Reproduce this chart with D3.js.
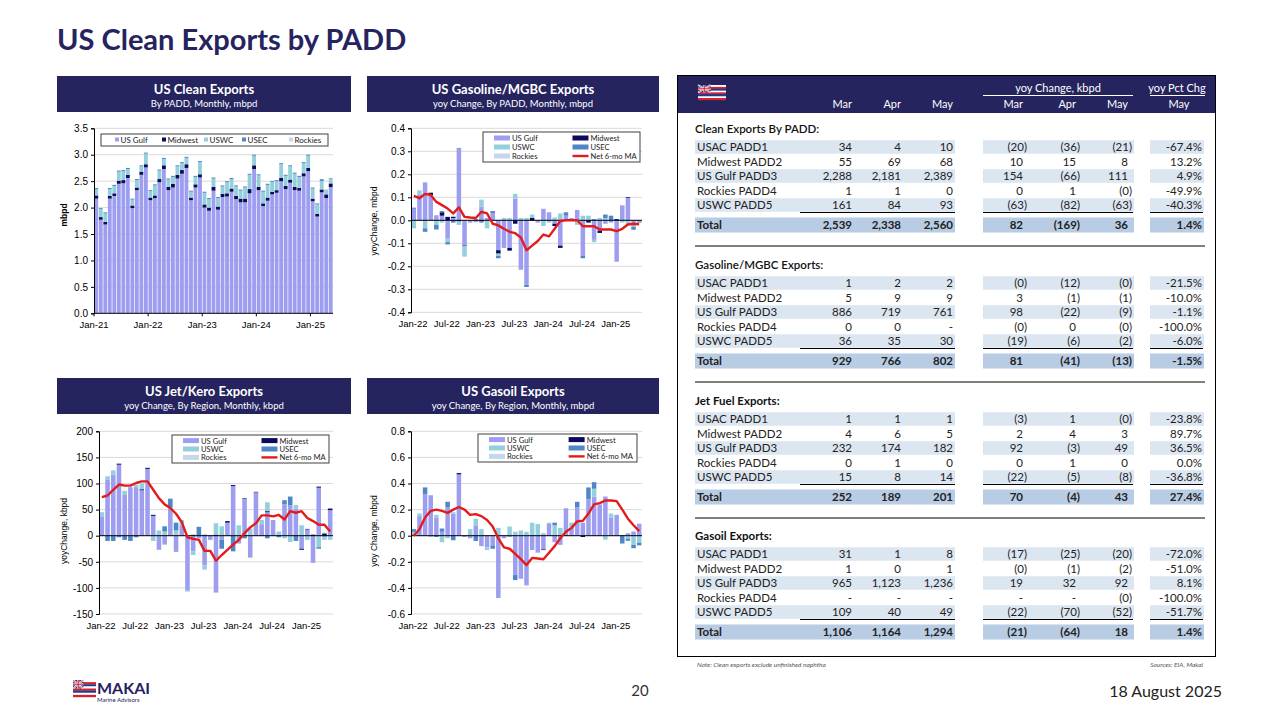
<!DOCTYPE html>
<html><head><meta charset="utf-8">
<script src="https://cdn.jsdelivr.net/npm/d3@7"></script>
<style>body{margin:0;background:#fff}svg{display:block}</style>
</head><body>
<svg id="c" width="1280" height="720"></svg>
<script>
// ---------------- DATA ----------------
// Chart 1: US Clean Exports by PADD, mbpd, Jan-21 .. May-25
const cleanTickLabels = ["Jan-21","Jan-22","Jan-23","Jan-24","Jan-25"];
const cleanGulf = [2.17,1.77,1.68,2.17,2.22,2.45,2.46,2.56,1.99,2.33,2.62,2.76, 2.14,2.18,2.48,2.73,2.33,2.38,2.55,2.64,2.75,2.14,2.38,2.57, 2.00,1.94,2.32,1.96,2.20,2.21,2.30,2.16,2.10,2.10,2.27,2.73, 2.33,2.03,2.13,2.25,2.28,2.50,2.35,2.47,2.33,2.32,2.59,2.69, 2.12,1.83,2.288,2.181,2.389];
const cleanMidwest = [0.06,0.05,0.05,0.05,0.05,0.06,0.06,0.06,0.05,0.05,0.06,0.06, 0.05,0.05,0.06,0.07,0.06,0.07,0.07,0.07,0.07,0.05,0.06,0.06, 0.06,0.06,0.07,0.06,0.06,0.06,0.06,0.06,0.07,0.07,0.08,0.07, 0.06,0.05,0.06,0.05,0.05,0.06,0.06,0.06,0.06,0.05,0.06,0.06, 0.05,0.05,0.055,0.069,0.068];
const cleanUSWC = [0.12,0.15,0.16,0.13,0.14,0.17,0.17,0.11,0.11,0.14,0.10,0.20, 0.12,0.19,0.16,0.12,0.14,0.13,0.16,0.13,0.12,0.11,0.14,0.23, 0.22,0.16,0.16,0.16,0.14,0.21,0.18,0.18,0.15,0.21,0.27,0.18, 0.22,0.22,0.24,0.18,0.17,0.26,0.19,0.25,0.25,0.21,0.19,0.23, 0.19,0.18,0.161,0.084,0.093];
const cleanUSEC = [0.02,0.02,0.02,0.02,0.02,0.02,0.02,0.02,0.02,0.02,0.02,0.02, 0.02,0.02,0.02,0.02,0.02,0.02,0.02,0.02,0.02,0.02,0.02,0.02, 0.02,0.02,0.02,0.02,0.02,0.02,0.02,0.02,0.02,0.02,0.02,0.02, 0.02,0.02,0.02,0.02,0.02,0.02,0.02,0.02,0.02,0.02,0.02,0.02, 0.02,0.02,0.034,0.004,0.010];
const cleanRockies = [0.001,0.001,0.001,0.001,0.001,0.001,0.001,0.001,0.001,0.001,0.001,0.001, 0.001,0.001,0.001,0.001,0.001,0.001,0.001,0.001,0.001,0.001,0.001,0.001, 0.001,0.001,0.001,0.001,0.001,0.001,0.001,0.001,0.001,0.001,0.001,0.001, 0.001,0.001,0.001,0.001,0.001,0.001,0.001,0.001,0.001,0.001,0.001,0.001, 0.001,0.001,0.001,0.001,0.000];

// yoy charts: Jan-22 .. May-25
const yoyTickLabels = ["Jan-22","Jul-22","Jan-23","Jul-23","Jan-24","Jul-24","Jan-25"];

// Chart 2: Gasoline/MGBC yoy change, mbpd
const gasGulf = [0.05,0.11,0.165,0.11,0.022,0.02,-0.08,0.01,0.315,-0.11,-0.01,-0.008,0.06,0.01,0.03,-0.13,-0.12,-0.12,0.095,-0.215,-0.28,0,-0.01,0.05,0.035,-0.015,-0.11,0.02,0.01,0.045,-0.155,0,-0.085,-0.045,-0.015,-0.01,-0.18,0.065,0.098,-0.022,-0.009];
const gasMidwest = [0,0,0,0.01,0,0.015,0.015,0.005,-0.005,-0.003,0,0.003,-0.005,0,0,-0.015,0,-0.012,-0.015,0,0,0.01,0,0,0,-0.01,-0.01,0,0,0,0,-0.01,0,-0.01,0,0,0.005,0,0.003,-0.001,-0.001];
const gasUSWC = [-0.035,0.02,-0.035,0,-0.02,-0.01,-0.015,0.005,-0.015,-0.045,0,0,0.03,-0.035,0,-0.01,0.01,0.01,0.02,0.01,0.01,0.015,0,-0.025,-0.01,0.012,0.03,0,0,-0.02,0.02,0.02,-0.01,0.01,0.01,0,0,-0.01,-0.019,-0.006,-0.002];
const gasUSEC = [0.005,0,-0.015,0,-0.02,0.005,-0.01,-0.01,0,0,0,0,-0.005,0,0.01,-0.01,0,0,0,0,-0.01,0,0,0,0,0,0,0.015,0,0,-0.01,0,0.005,0,0.015,0.02,0,0,0,-0.012,0];
const gasRockies = [0,0,0,0,0,0,0,0,0,0,0,0,0,0,0,0,0,0,0,0,0,0,0,0,0,0,0,0,0,0,0,0,0,0,0,0,0,0,0,0,0];
const gasMA = [0.106,0.096,0.115,0.11,0.08,0.066,0.051,0.03,0.056,0.015,0.012,0.01,0.037,0.03,-0.015,-0.022,-0.037,-0.05,-0.056,-0.075,-0.13,-0.11,-0.09,-0.062,-0.07,-0.037,-0.003,0,0,0,-0.026,-0.026,-0.026,-0.04,-0.04,-0.04,-0.047,-0.037,-0.018,-0.015,-0.017];

// Chart 3: Jet/Kero yoy change, kbpd
const jetGulf = [37,108,117,136,78,93,93,87,128,38,-27,-17,55,-31,20,-104,-30,-5,-57,-8,-109,-8,25,95,-15,71,-42,83,22,45,30,0,60,58,52,-25,12,-52,92,-3,49];
const jetMidwest = [0,0,0,2,0,0,0,2,2,2,0,0,0,0,0,0,0,0,0,0,2,0,3,2,0,1,0,1,0,2,0,0,0,0,0,-2,1,2,2,4,3];
const jetUSWC = [8,6,8,0,8,0,5,11,0,-10,10,8,0,10,10,-3,-7,0,-8,0,22,18,0,0,20,0,14,0,8,17,0,8,-5,-12,7,20,-8,0,-22,-5,-8];
const jetUSEC = [0,-10,-10,-3,-8,-10,-3,0,0,0,0,10,16,15,0,0,2,17,2,0,0,-17,0,-30,0,-5,0,0,0,-5,0,-3,8,17,-10,0,0,0,-3,1,0];
const jetRockies = [0,0,0,0,0,0,0,0,0,0,0,0,0,0,0,0,0,0,0,0,0,0,0,0,0,0,0,0,0,0,0,0,0,0,0,0,0,0,0,1,0];
const jetMA = [74,77,88,98,96,96,101,104,104,88,72,60,53,42,26,-3,-6,-8,-29,-29,-48,-37,-27,-17,-8,5,16,24,39,39,37,40,31,47,44,47,34,28,21,21,8];

// Chart 4: Gasoil yoy change, mbpd
const goGulf = [0,0.15,0.32,0.31,0.14,0.03,0.22,0.17,0.47,-0.01,-0.02,0.08,-0.08,-0.09,-0.075,-0.47,-0.02,-0.01,-0.30,-0.33,-0.375,-0.11,-0.13,-0.105,0.09,-0.05,-0.07,0.21,0.06,0.22,0.1,0.28,0.30,0.24,0.30,0.14,0.16,0.005,0.019,0.032,0.092];
const goMidwest = [0,0,0,0,0,0,0,0,0.01,0,0,0,0,0,0,0,0,0,0,0,0,0,0,-0.005,0,0,0,0,0,0,-0.01,0,0,0,0,0,0,0,0,-0.001,-0.002];
const goUSWC = [0.03,0.02,0,-0.01,0.02,-0.05,-0.02,0.01,0,0,0.05,0.05,0.05,-0.02,0,0.06,0,0.07,0.03,0.04,0.03,0.1,0.09,0.02,0.01,0.08,0.06,0,0.04,0,0,0,0.06,0,-0.03,0.03,0,0,-0.022,-0.07,-0.052];
const goUSEC = [0.02,0,0.05,0,-0.01,0.025,0.04,-0.035,0,0,0,-0.04,0,0,-0.025,-0.005,0,0,-0.04,0,-0.005,0,0,0,0,0.02,0,0,0,0.04,0,0.09,0.05,0,0,0,0,-0.06,-0.017,-0.025,-0.02];
const goRockies = [0,0,0,0,0,0,0,0,0,0,0,0,0,0,0,0,0,0,0,0,0,0,0,0,0,0,0,0,0,0,0,0,0,0,0,0,0,0,0,0,0];
const goMA = [0,0.05,0.14,0.19,0.2,0.19,0.175,0.2,0.22,0.2,0.16,0.165,0.15,0.12,0.07,-0.02,-0.09,-0.1,-0.14,-0.18,-0.225,-0.17,-0.175,-0.18,-0.13,-0.08,-0.02,0.03,0.06,0.11,0.115,0.17,0.24,0.25,0.27,0.27,0.265,0.2,0.13,0.08,0.035];

// Table
const tblMonths = ["Mar","Apr","May"];
const padds = ["USAC PADD1","Midwest PADD2","US Gulf PADD3","Rockies PADD4","USWC PADD5"];
const cleanVol = [[34,4,10],[55,69,68],[2288,2181,2389],[1,1,0],[161,84,93]];
const cleanVolTot = [2539,2338,2560];
const cleanYoy = [[-20,-36,-21],[10,15,8],[154,-66,111],[0,1,-0.2],[-63,-82,-63]];
const cleanYoyTot = [82,-169,36];
const cleanPct = [-67.4,13.2,4.9,-49.9,-40.3];
const cleanPctTot = 1.4;
const gasVol = [[1,2,2],[5,9,9],[886,719,761],[0,0,null],[36,35,30]];
const gasVolTot = [929,766,802];
const gasYoy = [[-0.2,-12,-0.2],[3,-1,-1],[98,-22,-9],[-0.2,0,-0.2],[-19,-6,-2]];
const gasYoyTot = [81,-41,-13];
const gasPct = [-21.5,-10.0,-1.1,-100.0,-6.0];
const gasPctTot = -1.5;
const jetVol = [[1,1,1],[4,6,5],[232,174,182],[0,1,0],[15,8,14]];
const jetVolTot = [252,189,201];
const jetYoy = [[-3,1,-0.2],[2,4,3],[92,-3,49],[0,1,0],[-22,-5,-8]];
const jetYoyTot = [70,-4,43];
const jetPct = [-23.8,89.7,36.5,0.0,-36.8];
const jetPctTot = 27.4;
const goVol = [[31,1,8],[1,0,1],[965,1123,1236],[null,null,null],[109,40,49]];
const goVolTot = [1106,1164,1294];
const goYoy = [[-17,-25,-20],[-0.2,-1,-2],[19,32,92],[null,null,-0.2],[-22,-70,-52]];
const goYoyTot = [-21,-64,18];
const goPct = [-72.0,-51.0,8.1,-100.0,-51.7];
const goPctTot = 1.4;

// ---------------- DRAWING ----------------
const svg = d3.select("#c");
const NAVY = "#26245f";
const COL = {gulf:"#9e9ef0", mw:"#0b0b5c", wc:"#94cfdc", ec:"#4f86c6", rk:"#c4d7ee"};
const KEYS = ["gulf","mw","wc","ec","rk"];
const AX = "Liberation Sans, Arial, sans-serif";
const LATO = "Lato, 'Open Sans', sans-serif";
const loc = d3.formatLocale({decimal:".", thousands:",", grouping:[3], currency:["$",""], minus:"-"});
const fmtMon = d3.timeFormat("%b-%y");
const months21 = d3.timeMonth.range(new Date(2021,0,1), new Date(2025,5,1)).map(fmtMon);
const months22 = d3.timeMonth.range(new Date(2022,0,1), new Date(2025,5,1)).map(fmtMon);

function rowsOf(months, s){
  return months.map((m,i)=>({m, gulf:s[0][i], mw:s[1][i], wc:s[2][i], ec:s[3][i], rk:s[4][i]}));
}

function banner(x,y,w,h,t1,t2){
  svg.append("rect").attr("x",x).attr("y",y).attr("width",w).attr("height",h).attr("fill",NAVY);
  svg.append("text").attr("x",x+w/2).attr("y",y+18).attr("text-anchor","middle").attr("fill","#fff")
    .attr("font-family",LATO).attr("font-weight",700).attr("font-size",13).text(t1);
  svg.append("text").attr("x",x+w/2).attr("y",y+31).attr("text-anchor","middle").attr("fill","#fff")
    .attr("font-family",LATO).attr("font-size",9.5).text(t2);
}

function flag(x,y,w,h){
  const g = svg.append("g");
  const sc = ["#fff","#d5202e","#1d3c8f","#fff","#d5202e","#1d3c8f","#fff","#d5202e"];
  sc.forEach((c,i)=>g.append("rect").attr("x",x).attr("y",y+i*h/8).attr("width",w).attr("height",h/8+0.2).attr("fill",c));
  const cw=w*0.45, ch=h*0.5;
  g.append("rect").attr("x",x).attr("y",y).attr("width",cw).attr("height",ch).attr("fill","#1d3c8f");
  g.append("path").attr("d",`M${x},${y}L${x+cw},${y+ch}M${x+cw},${y}L${x},${y+ch}`).attr("stroke","#fff").attr("stroke-width",h*0.1);
  g.append("path").attr("d",`M${x},${y}L${x+cw},${y+ch}M${x+cw},${y}L${x},${y+ch}`).attr("stroke","#d5202e").attr("stroke-width",h*0.04);
  g.append("path").attr("d",`M${x+cw/2},${y}V${y+ch}M${x},${y+ch/2}H${x+cw}`).attr("stroke","#fff").attr("stroke-width",h*0.13);
  g.append("path").attr("d",`M${x+cw/2},${y}V${y+ch}M${x},${y+ch/2}H${x+cw}`).attr("stroke","#d5202e").attr("stroke-width",h*0.07);
}

// Title
svg.append("text").attr("x",57).attr("y",50).attr("font-family",LATO).attr("font-weight",700)
  .attr("font-size",29).attr("fill",NAVY).text("US Clean Exports by PADD");

// ---------- Chart 1 ----------
(function(){
  const L=94, R=333, T=128.3, B=313.3;
  banner(57,76,294,36,"US Clean Exports","By PADD, Monthly, mbpd");
  const x = d3.scaleBand().domain(months21).range([L,R]).paddingInner(0.15).paddingOuter(0.08);
  const y = d3.scaleLinear().domain([0,3.5]).range([B,T]);
  const g = svg.append("g");
  const yt = d3.range(0,3.51,0.5);
  g.selectAll(".gl").data(yt.slice(1)).join("line").attr("x1",L).attr("x2",R)
    .attr("y1",d=>y(d)).attr("y2",d=>y(d)).attr("stroke","#d9d9d9");
  const st = d3.stack().keys(KEYS).offset(d3.stackOffsetDiverging)(rowsOf(months21,[cleanGulf,cleanMidwest,cleanUSWC,cleanUSEC,cleanRockies]));
  st.forEach(s=>g.append("g").selectAll("rect").data(s).join("rect")
    .attr("x",d=>x(d.data.m)).attr("width",x.bandwidth())
    .attr("y",d=>y(Math.max(d[0],d[1]))).attr("height",d=>Math.abs(y(d[0])-y(d[1])))
    .attr("fill",COL[s.key]));
  const ax = d3.axisLeft(y).tickValues(yt).tickFormat(loc.format(".1f")).tickSize(3).tickPadding(3);
  const ag = g.append("g").attr("transform",`translate(${L},0)`).call(ax);
  ag.selectAll("text").attr("font-family",AX).attr("font-size",10).attr("fill","#000");
  ag.selectAll("line,path").attr("stroke","#000");
  g.append("line").attr("x1",L).attr("x2",R).attr("y1",B).attr("y2",B).attr("stroke","#000");
  const half = x.step()*x.paddingInner()/2;
  cleanTickLabels.forEach(t=>{
    const px = x(t)-half;
    g.append("line").attr("x1",px).attr("x2",px).attr("y1",B).attr("y2",B+3).attr("stroke","#000");
    g.append("text").attr("x",px).attr("y",B+15).attr("text-anchor","middle").attr("font-family",AX).attr("font-size",9.5).text(t);
  });
  g.append("text").attr("transform","translate(67,215) rotate(-90)").attr("text-anchor","middle")
    .attr("font-family",AX).attr("font-weight",700).attr("font-size",8.5).text("mbpd");
  // legend
  g.append("rect").attr("x",101).attr("y",134).attr("width",227).attr("height",12).attr("fill","#fff").attr("stroke","#404040");
  const items=[["gulf","US Gulf",115],["mw","Midwest",162],["wc","USWC",204],["ec","USEC",242],["rk","Rockies",289]];
  items.forEach(([k,t,px])=>{
    g.append("rect").attr("x",px).attr("y",137.5).attr("width",4).attr("height",4).attr("fill",COL[k]);
    g.append("text").attr("x",px+5.5).attr("y",143.2).attr("font-family",LATO).attr("font-size",8).attr("fill","#222").text(t);
  });
})();

// ---------- yoy charts ----------
function yoyChart(cfg){
  const {L,R,T,B,dom,ticks,fmt,series,ma,leg,ylabel,ylx,yly} = cfg;
  const x = d3.scaleBand().domain(months22).range([L,R]).paddingInner(0.2).paddingOuter(0.1);
  const y = d3.scaleLinear().domain(dom).range([B,T]);
  const g = svg.append("g");
  g.selectAll(".gl").data(ticks).join("line").attr("x1",L).attr("x2",R)
    .attr("y1",d=>y(d)).attr("y2",d=>y(d)).attr("stroke","#d9d9d9");
  const st = d3.stack().keys(KEYS).offset(d3.stackOffsetDiverging)(rowsOf(months22,series));
  st.forEach(s=>g.append("g").selectAll("rect").data(s).join("rect")
    .attr("x",d=>x(d.data.m)).attr("width",x.bandwidth())
    .attr("y",d=>y(Math.max(d[0],d[1]))).attr("height",d=>Math.abs(y(d[0])-y(d[1])))
    .attr("fill",COL[s.key]));
  g.append("line").attr("x1",L).attr("x2",R).attr("y1",y(0)).attr("y2",y(0)).attr("stroke","#000");
  const line = d3.line().x((d,i)=>x(months22[i])+x.bandwidth()/2).y(d=>y(d));
  g.append("path").datum(ma).attr("d",line).attr("fill","none").attr("stroke","#e31b1b").attr("stroke-width",2.4).attr("stroke-linejoin","round");
  const ax = d3.axisLeft(y).tickValues(ticks).tickFormat(fmt).tickSize(3).tickPadding(3);
  const ag = g.append("g").attr("transform",`translate(${L},0)`).call(ax);
  ag.selectAll("text").attr("font-family",AX).attr("font-size",10).attr("fill","#000");
  ag.selectAll("line,path").attr("stroke","#000");
  const half = x.step()*x.paddingInner()/2;
  yoyTickLabels.forEach(t=>{
    g.append("text").attr("x",x(t)-half+2).attr("y",B+15).attr("text-anchor","middle").attr("font-family",AX).attr("font-size",9.5).text(t);
  });
  g.append("text").attr("transform",`translate(${ylx},${yly}) rotate(-90)`).attr("text-anchor","middle")
    .attr("font-family",AX).attr("font-size",8.5).text(ylabel);
  // legend
  const [lx,ly,lw,lh] = leg;
  g.append("rect").attr("x",lx).attr("y",ly).attr("width",lw).attr("height",lh).attr("fill","#fff").attr("stroke","#404040");
  const rowsY = [ly+lh*0.2, ly+lh*0.5, ly+lh*0.8];
  const items = [[["gulf","US Gulf"],["mw","Midwest"]],[["wc","USWC"],["ec","USEC"]],[["rk","Rockies"],["ma","Net 6-mo MA"]]];
  items.forEach((row,r)=>row.forEach(([k,t],c)=>{
    const sx = c===0 ? lx+11 : lx+lw*0.57;
    const tx = c===0 ? lx+29 : lx+lw*0.57+18;
    if(k==="ma") g.append("line").attr("x1",sx).attr("x2",sx+16).attr("y1",rowsY[r]).attr("y2",rowsY[r]).attr("stroke","#e31b1b").attr("stroke-width",2.4);
    else g.append("rect").attr("x",sx).attr("y",rowsY[r]-2.5).attr("width",16).attr("height",5).attr("fill",COL[k]);
    g.append("text").attr("x",tx).attr("y",rowsY[r]+3).attr("font-family",LATO).attr("font-size",7.6).attr("fill","#222").text(t);
  }));
}

banner(367,76,292,36,"US Gasoline/MGBC Exports","yoy Change, By PADD, Monthly, mbpd");
yoyChart({L:411,R:642,T:128.3,B:312.3,dom:[-0.4,0.4],ticks:d3.range(-4,5).map(d=>d/10),fmt:loc.format(".1f"),
  series:[gasGulf,gasMidwest,gasUSWC,gasUSEC,gasRockies],ma:gasMA,leg:[483,132,157,30],ylabel:"yoyChange, mbpd",ylx:377,yly:221});

banner(57,378,294,36,"US Jet/Kero Exports","yoy Change, By Region, Monthly, kbpd");
yoyChart({L:99,R:333,T:431.3,B:614,dom:[-150,200],ticks:d3.range(-150,201,50),fmt:loc.format("d"),
  series:[jetGulf,jetMidwest,jetUSWC,jetUSEC,jetRockies],ma:jetMA,leg:[172,435,157,28],ylabel:"yoyChange, kbpd",ylx:67,yly:531});

banner(367,378,292,36,"US Gasoil Exports","yoy Change, By Region, Monthly, mbpd");
yoyChart({L:411,R:642,T:431.3,B:614,dom:[-0.6,0.8],ticks:d3.range(-3,5).map(d=>d/5),fmt:loc.format(".1f"),
  series:[goGulf,goMidwest,goUSWC,goUSEC,goRockies],ma:goMA,leg:[478,434,159,28],ylabel:"yoy Change, mbpd",ylx:377,yly:531});

// ---------- Table ----------
(function(){
  const g = svg.append("g");
  g.append("rect").attr("x",677.5).attr("y",75.5).attr("width",538).attr("height",581).attr("fill","#fff").attr("stroke","#000");
  g.append("rect").attr("x",678).attr("y",76).attr("width",537).attr("height",37).attr("fill",NAVY);
  flag(698,85,28,15);
  const cols = [852,901,953,1027,1080,1132];
  const pctCol = 1202;
  const hdr = (t,xx,yy,anchor)=>g.append("text").attr("x",xx).attr("y",yy).attr("text-anchor",anchor).attr("fill","#fff")
      .attr("font-family",LATO).attr("font-size",11).text(t);
  hdr("yoy Change, kbpd",1058,92,"middle");
  hdr("yoy Pct Chg",1177,92,"middle");
  g.append("line").attr("x1",983).attr("x2",1133).attr("y1",95.5).attr("y2",95.5).attr("stroke","#fff");
  g.append("line").attr("x1",1150).attr("x2",1205).attr("y1",95.5).attr("y2",95.5).attr("stroke","#fff");
  [...tblMonths,...tblMonths].forEach((m,i)=>hdr(m,cols[i]-(i>=3?4:0),108,"end"));
  hdr("May",1179,108,"middle");

  const fmtN = v => v==null ? "-" : (v<0 ? "("+loc.format(",")(Math.round(-v))+")" : loc.format(",")(Math.round(v)));
  const fmtP = v => loc.format(".1f")(v)+"%";
  const sections = [
    ["Clean Exports By PADD:",cleanVol,cleanVolTot,cleanYoy,cleanYoyTot,cleanPct,cleanPctTot,129],
    ["Gasoline/MGBC Exports:",gasVol,gasVolTot,gasYoy,gasYoyTot,gasPct,gasPctTot,265],
    ["Jet Fuel Exports:",jetVol,jetVolTot,jetYoy,jetYoyTot,jetPct,jetPctTot,401],
    ["Gasoil Exports:",goVol,goVolTot,goYoy,goYoyTot,goPct,goPctTot,536]
  ];
  const pitch = 14.5;
  const bands = [[695,955],[983,1134],[1150,1204]];
  function cell(t,xx,yy,bold,anchor){
    g.append("text").attr("x",xx).attr("y",yy).attr("text-anchor",anchor||"end").attr("font-family",LATO)
      .attr("font-size",11.5).attr("font-weight",bold?700:400).attr("fill","#222").text(t);
  }
  function numCell(v,ci,yy,bold){
    const s = fmtN(v);
    const paren = s.startsWith("(");
    const off = ci>=3 && !paren ? 4 : 0;
    cell(s, cols[ci]-off, yy, bold);
  }
  sections.forEach(([title,vol,volT,yoy,yoyT,pct,pctT,ty],si)=>{
    g.append("text").attr("x",695).attr("y",ty+4).attr("font-family",LATO).attr("font-size",11.5)
      .attr("font-weight",si>=2?700:600).attr("fill","#111").text(title);
    padds.forEach((p,r)=>{
      const cy = ty + 18 + r*pitch;
      if(r%2===0) bands.forEach(([a,b])=>g.append("rect").attr("x",a).attr("y",cy-6.8).attr("width",b-a).attr("height",13.6).attr("fill","#dce6f1"));
      cell(p,697,cy+4,false,"start");
      vol[r].forEach((v,i)=>numCell(v,i,cy+4,false));
      yoy[r].forEach((v,i)=>numCell(v,i+3,cy+4,false));
      cell(fmtP(pct[r]),pctCol,cy+4,false);
    });
    const uy = ty + 18 + 4*pitch + 7.5;
    [[800,955],[983,1133],[1150,1203]].forEach(([a,b])=>g.append("line").attr("x1",a).attr("x2",b).attr("y1",uy).attr("y2",uy).attr("stroke","#000"));
    const tyy = ty + 96;
    bands.forEach(([a,b])=>g.append("rect").attr("x",a).attr("y",tyy-7.5).attr("width",b-a).attr("height",15).attr("fill","#b8cce4"));
    cell("Total",697,tyy+4,true,"start");
    volT.forEach((v,i)=>numCell(v,i,tyy+4,true));
    yoyT.forEach((v,i)=>numCell(v,i+3,tyy+4,true));
    cell(fmtP(pctT),pctCol,tyy+4,true);
    if(si<3){
      const sy = ty + 117;
      g.append("line").attr("x1",695).attr("x2",1205).attr("y1",sy).attr("y2",sy).attr("stroke","#000");
    }
  });
  g.append("text").attr("x",697).attr("y",667).attr("font-family",LATO).attr("font-style","italic").attr("font-size",6.5).attr("fill","#555").text("Note: Clean exports exclude unfinished naphtha");
  g.append("text").attr("x",1203).attr("y",667).attr("text-anchor","end").attr("font-family",LATO).attr("font-style","italic").attr("font-size",6.5).attr("fill","#555").text("Sources: EIA, Makai");
})();

// ---------- Footer ----------
flag(73,680,23,17);
svg.append("text").attr("x",97).attr("y",694).attr("font-family",LATO).attr("font-weight",700).attr("font-size",16).attr("fill",NAVY).text("MAKAI");
svg.append("text").attr("x",97).attr("y",702).attr("font-family",LATO).attr("font-size",6).attr("fill",NAVY).text("Marine Advisors");
svg.append("text").attr("x",640).attr("y",696).attr("text-anchor","middle").attr("font-family",LATO).attr("font-size",15).attr("fill","#333").text("20");
svg.append("text").attr("x",1222).attr("y",697).attr("text-anchor","end").attr("font-family",LATO).attr("font-size",16).attr("fill","#222").text("18 August 2025");
</script>
</body></html>
